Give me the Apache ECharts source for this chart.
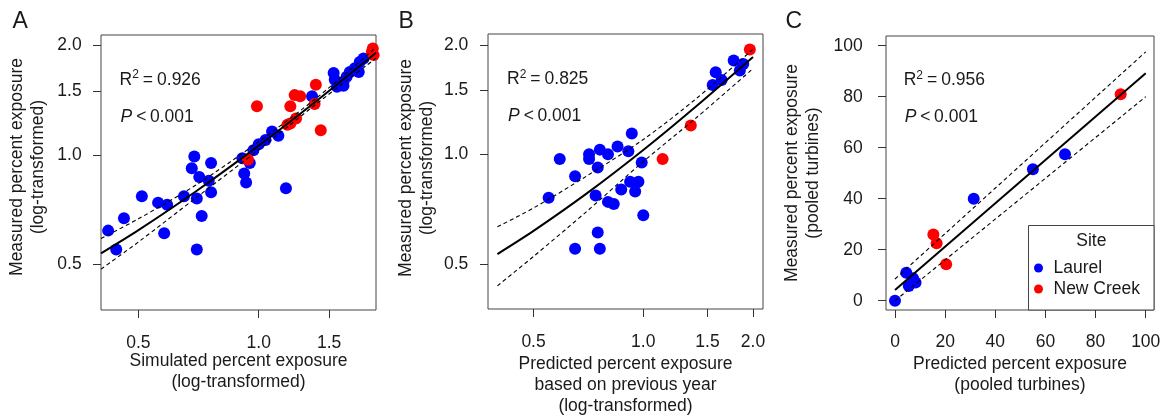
<!DOCTYPE html>
<html>
<head>
<meta charset="utf-8">
<script src="https://cdn.jsdelivr.net/npm/echarts@6/dist/echarts.min.js"></script>
<style>
  html, body { margin: 0; padding: 0; background: #fff; }
  #chart { width: 1162px; height: 415px; }
</style>
</head>
<body>
<div id="chart"></div>
<script>
(function() {
  var FONT = "'Liberation Sans', Arial, Helvetica, sans-serif";
  var INK = '#1a1a1a';
  var BOX = '#444';
  var BLUE = '#0000ff';
  var RED = '#ff0000';

  // --- Panel A: simulated vs measured (log axes) ---
  var aLaurel = [
    [0.42, 0.62], [0.44, 0.55], [0.46, 0.67], [0.51, 0.77], [0.56, 0.74], [0.58, 0.61],
    [0.59, 0.73], [0.65, 0.77], [0.68, 0.92], [0.69, 0.99], [0.71, 0.87], [0.70, 0.76],
    [0.72, 0.68], [0.70, 0.55], [0.76, 0.95], [0.75, 0.85], [0.76, 0.79], [0.92, 0.89],
    [0.93, 0.84], [0.91, 0.98], [0.95, 0.95], [0.97, 1.03], [1.00, 1.07], [1.04, 1.10],
    [1.08, 1.16], [1.12, 1.13], [1.17, 0.81], [1.36, 1.45], [1.54, 1.68], [1.55, 1.61],
    [1.58, 1.55], [1.57, 1.54], [1.63, 1.59], [1.63, 1.55], [1.66, 1.64], [1.69, 1.69],
    [1.74, 1.73], [1.78, 1.69], [1.79, 1.80], [1.83, 1.84]
  ];
  var aNewCreek = [
    [0.94, 0.97], [0.99, 1.36], [1.18, 1.21], [1.20, 1.22], [1.24, 1.26], [1.20, 1.36],
    [1.23, 1.46], [1.27, 1.45], [1.39, 1.56], [1.38, 1.38], [1.43, 1.17], [1.92, 1.92],
    [1.94, 1.88], [1.93, 1.96]
  ];
  var aFit = [[0.403, 0.537], [0.5, 0.622], [0.7, 0.798], [1.0, 1.061], [1.4, 1.412], [1.966, 1.909]];
  var aUpper = [[0.403, 0.590], [0.5, 0.668], [0.7, 0.830], [1.0, 1.088], [1.4, 1.438], [1.966, 1.975]];
  var aLower = [[0.403, 0.486], [0.5, 0.577], [0.7, 0.766], [1.0, 1.034], [1.4, 1.386], [1.966, 1.843]];

  // --- Panel B: predicted from previous year vs measured (log axes) ---
  var bLaurel = [
    [0.55, 0.76], [0.59, 0.97], [0.65, 0.87], [0.65, 0.55], [0.71, 1.00], [0.71, 0.97],
    [0.74, 0.77], [0.75, 0.92], [0.76, 1.03], [0.75, 0.61], [0.76, 0.55], [0.80, 1.00],
    [0.80, 0.74], [0.83, 0.73], [0.85, 1.05], [0.87, 0.80], [0.91, 1.02], [0.93, 1.14],
    [0.92, 0.84], [0.97, 0.84], [0.95, 0.79], [0.99, 0.95], [1.00, 0.68], [1.77, 1.81],
    [1.88, 1.77], [1.84, 1.70], [1.58, 1.68], [1.64, 1.60], [1.55, 1.55]
  ];
  var bNewCreek = [[1.96, 1.94], [1.35, 1.20], [1.13, 0.97]];
  var bFit = [[0.398, 0.532], [0.5, 0.616], [0.7, 0.781], [1.0, 1.028], [1.4, 1.358], [2.0, 1.852]];
  var bUpper = [[0.398, 0.632], [0.5, 0.712], [0.7, 0.872], [1.0, 1.098], [1.4, 1.425], [2.0, 1.945]];
  var bLower = [[0.398, 0.435], [0.5, 0.524], [0.7, 0.697], [1.0, 0.955], [1.4, 1.262], [2.0, 1.720]];

  // --- Panel C: pooled turbines (linear axes) ---
  var cLaurel = [[0, 0], [4.5, 11], [5.5, 5.8], [7.2, 8.8], [8.2, 7.1], [31.4, 40], [55, 51.5], [67.8, 57.4]];
  var cNewCreek = [[15.3, 26], [16.6, 22.5], [20.4, 14.3], [90, 81]];
  var cFit = [[0, 4.2], [100, 89.2]];
  var cUpper = [[0, 8.5], [100, 97.6]];
  var cLower = [[0, 0], [100, 80.0]];

  // tick labels
  var aXTicks = [0.5, 1.0, 1.5];
  var logTicks = [0.5, 1.0, 1.5, 2.0];
  var linTicks = [0, 20, 40, 60, 80, 100];

  function toLog(arr) {
    return arr.map(function(p) { return [Math.log(p[0]), Math.log(p[1])]; });
  }
  function fmtLog(v) { return Math.exp(v).toFixed(1); }
  function fmtLin(v) { return String(Math.round(v)); }

  function axis(gi, range, ticks, isLog, name, gap, margin, pad) {
    var vals = isLog ? ticks.map(function(t) { return Math.log(t); }) : ticks;
    return {
      type: 'value',
      gridIndex: gi,
      min: isLog ? Math.log(range[0]) : range[0],
      max: isLog ? Math.log(range[1]) : range[1],
      axisLine: { show: false, onZero: false },
      axisTick: { show: true, length: 8, customValues: vals, lineStyle: { color: '#333', width: 1 } },
      axisLabel: {
        customValues: vals,
        formatter: isLog ? fmtLog : fmtLin,
        margin: margin,
        color: INK,
        fontSize: 17.5,
        fontFamily: FONT,
        lineHeight: 18
      },
      splitLine: { show: false },
      name: name,
      nameLocation: 'middle',
      nameGap: gap,
      nameMoveOverlap: false,
      nameTextStyle: { color: INK, fontSize: 17.5, fontFamily: FONT, lineHeight: 21, padding: pad || 0 }
    };
  }

  function scatter(name, arr, color, gi, isLog) {
    return {
      name: name,
      type: 'scatter',
      xAxisIndex: gi,
      yAxisIndex: gi,
      symbol: 'circle',
      symbolSize: 12,
      itemStyle: { color: color, opacity: 1 },
      data: isLog ? toLog(arr) : arr
    };
  }

  function fitLine(name, arr, gi, isLog, dashed) {
    return {
      name: name,
      type: 'line',
      xAxisIndex: gi,
      yAxisIndex: gi,
      z: 3,
      symbol: 'none',
      smooth: isLog ? 0.3 : false,
      lineStyle: dashed
        ? { color: '#000', width: 1.1, type: [4, 3] }
        : { color: '#000', width: 2 },
      data: isLog ? toLog(arr) : arr
    };
  }

  function statText(x, y, r2) {
    var rich = {
      r: { fontSize: 17.5, fontFamily: FONT, fill: INK, lineHeight: 22 },
      i: { fontSize: 17.5, fontFamily: FONT, fontStyle: 'italic', fill: INK, lineHeight: 22 },
      s: { fontSize: 12, fontFamily: FONT, fill: INK, lineHeight: 10, verticalAlign: 'top' },
      o: { fontSize: 17.5, fontFamily: FONT, fill: INK, lineHeight: 22, padding: [0, 4, 0, 4] },
      p: { fontSize: 17.5, fontFamily: FONT, fill: INK, lineHeight: 22, padding: [0, 3.5, 0, 4] }
    };
    return [
      { type: 'text', x: x, y: y, style: { text: '{r|R}{s|2}{o|=}{r|' + r2 + '}', rich: rich, verticalAlign: 'middle', align: 'left' } },
      { type: 'text', x: x + 1, y: y + 37, style: { text: '{i|P}{p|<}{r|0.001}', rich: rich, verticalAlign: 'middle', align: 'left' } }
    ];
  }

  function letter(x, t) {
    return { type: 'text', x: x, y: 21.5, style: { text: t, fontSize: 23, fontFamily: FONT, fill: INK, verticalAlign: 'middle', align: 'left' } };
  }

  var chart = echarts.init(document.getElementById('chart'), null, { renderer: 'canvas' });
  chart.setOption({
    animation: false,
    backgroundColor: '#fff',
    grid: [
      { left: 101, top: 35, width: 275, height: 275, show: true, borderColor: BOX, borderWidth: 1, outerBoundsMode: 'none', containLabel: false },
      { left: 488, top: 34, width: 275, height: 275, show: true, borderColor: BOX, borderWidth: 1, outerBoundsMode: 'none', containLabel: false },
      { left: 886, top: 36, width: 268, height: 274, show: true, borderColor: BOX, borderWidth: 1, outerBoundsMode: 'none', containLabel: false }
    ],
    xAxis: [
      axis(0, [0.403, 1.966], aXTicks, true, 'Simulated percent exposure\n(log-transformed)', 40.5, 24.3),
      axis(1, [0.375, 2.13], logTicks, true, 'Predicted percent exposure\nbased on previous year\n(log-transformed)', 44.3, 24.5),
      axis(2, [-3.59, 103.3], linTicks, false, 'Predicted percent exposure\n(pooled turbines)', 43.5, 23.5)
    ],
    yAxis: [
      axis(0, [0.3754, 2.135], logTicks, true, 'Measured percent exposure\n(log-transformed)', 52.2, 19.3, [0, 0, 0, 11]),
      axis(1, [0.3757, 2.141], logTicks, true, 'Measured percent exposure\n(log-transformed)', 50.8, 19.7, [0, 0, 0, 7]),
      axis(2, [-3.65, 103.8], linTicks, false, 'Measured percent exposure\n(pooled turbines)', 62.5, 23.3)
    ],
    legend: {
      data: ['Laurel', 'New Creek'],
      orient: 'vertical',
      left: 1034,
      top: 259,
      padding: 0,
      itemWidth: 20,
      itemHeight: 9,
      itemGap: 3,
      icon: 'circle',
      selectedMode: false,
      textStyle: { color: INK, fontSize: 17.5, fontFamily: FONT, lineHeight: 18 }
    },
    graphic: [
      { type: 'rect', z: 0, shape: { x: 1028.5, y: 225.5, width: 125.5, height: 84.5 }, style: { fill: '#fff', stroke: BOX, lineWidth: 1 } },
      { type: 'text', x: 1091.3, y: 240.7, style: { text: 'Site', fontSize: 17.5, fontFamily: FONT, fill: INK, align: 'center', verticalAlign: 'middle' } },
      letter(12.5, 'A'), letter(398.5, 'B'), letter(785.5, 'C')
    ].concat(statText(119.5, 80, '0.926'), statText(507, 79.5, '0.825'), statText(903.7, 80.5, '0.956')),
    series: [
      scatter('Laurel', aLaurel, BLUE, 0, true),
      scatter('New Creek', aNewCreek, RED, 0, true),
      fitLine('A fit', aFit, 0, true, false),
      fitLine('A upper', aUpper, 0, true, true),
      fitLine('A lower', aLower, 0, true, true),

      scatter('Laurel', bLaurel, BLUE, 1, true),
      scatter('New Creek', bNewCreek, RED, 1, true),
      fitLine('B fit', bFit, 1, true, false),
      fitLine('B upper', bUpper, 1, true, true),
      fitLine('B lower', bLower, 1, true, true),

      scatter('Laurel', cLaurel, BLUE, 2, false),
      scatter('New Creek', cNewCreek, RED, 2, false),
      fitLine('C fit', cFit, 2, false, false),
      fitLine('C upper', cUpper, 2, false, true),
      fitLine('C lower', cLower, 2, false, true)
    ]
  });
  window.addEventListener('resize', function() { chart.resize(); });
})();
</script>
</body>
</html>
